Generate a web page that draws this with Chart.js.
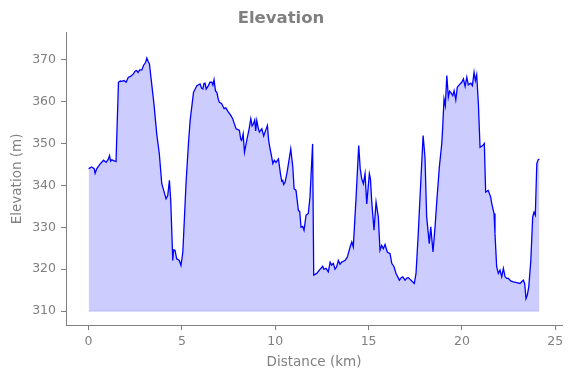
<!DOCTYPE html>
<html>
<head>
<meta charset="utf-8">
<script src="https://cdn.jsdelivr.net/npm/chart.js@4/dist/chart.umd.min.js"></script>
<style>
  html, body { margin: 0; padding: 0; background: #fff; }
</style>
</head>
<body>
<canvas id="chart" width="573" height="378"></canvas>
<script>
var distanceKm = [
    0.00, 0.17, 0.30, 0.35, 0.44, 0.60, 0.80, 0.94, 1.05, 1.12, 1.18, 1.24, 1.35, 1.47,
    1.60, 1.70, 1.78, 1.90, 2.01, 2.13, 2.25, 2.40, 2.50, 2.58, 2.65, 2.75, 2.85, 2.94,
    3.05, 3.12, 3.20, 3.26, 3.38, 3.50, 3.65, 3.79, 3.92, 4.15, 4.24, 4.33, 4.40, 4.51,
    4.55, 4.63, 4.72, 4.86, 4.95, 5.05, 5.22, 5.35, 5.44, 5.62, 5.80, 5.97, 6.05, 6.12,
    6.18, 6.24, 6.30, 6.42, 6.50, 6.60, 6.66, 6.72, 6.80, 6.87, 6.95, 7.01, 7.13, 7.26,
    7.35, 7.49, 7.60, 7.72, 7.80, 7.90, 8.00, 8.08, 8.15, 8.20, 8.28, 8.35, 8.47, 8.60,
    8.69, 8.76, 8.83, 8.90, 8.95, 9.01, 9.08, 9.15, 9.28, 9.38, 9.45, 9.58, 9.64, 9.69,
    9.80, 9.87, 9.95, 10.04, 10.17, 10.29, 10.35, 10.40, 10.45, 10.53, 10.65, 10.76,
    10.83, 10.94, 11.01, 11.11, 11.24, 11.31, 11.38, 11.47, 11.54, 11.65, 11.77, 11.86,
    12.00, 12.06, 12.22, 12.36, 12.54, 12.60, 12.72, 12.84, 12.94, 13.02, 13.11, 13.20,
    13.29, 13.38, 13.47, 13.56, 13.65, 13.74, 13.86, 14.01, 14.10, 14.18, 14.33, 14.47,
    14.55, 14.63, 14.72, 14.81, 14.90, 15.04, 15.10, 15.17, 15.29, 15.40, 15.52, 15.61,
    15.70, 15.79, 15.88, 16.00, 16.15, 16.24, 16.36, 16.47, 16.65, 16.75, 16.83, 16.95,
    17.05, 17.13, 17.31, 17.45, 17.54, 17.66, 17.79, 17.92, 18.02, 18.11, 18.25, 18.33,
    18.45, 18.56, 18.65, 18.79, 18.92, 18.97, 19.04, 19.11, 19.19, 19.27, 19.34, 19.40,
    19.51, 19.58, 19.67, 19.75, 19.90, 19.99, 20.08, 20.17, 20.26, 20.34, 20.47, 20.56,
    20.65, 20.72, 20.79, 20.88, 20.97, 21.11, 21.20, 21.27, 21.41, 21.54, 21.60, 21.72,
    21.77, 21.86, 21.95, 22.04, 22.13, 22.22, 22.31, 22.40, 22.49, 22.61, 22.75, 22.94,
    23.11, 23.20, 23.29, 23.36, 23.43, 23.50, 23.58, 23.69, 23.79, 23.86, 23.93, 24.01,
    24.08, 24.15
];

var elevationM = [
    344.0, 344.4, 344.0, 342.9, 344.0, 345.0, 346.0, 345.5, 346.2, 347.1, 345.8, 346.1, 345.9, 345.7,
    364.6, 364.9, 364.8, 365.0, 364.6, 365.8, 366.0, 366.6, 367.3, 367.4, 366.9, 367.6, 367.5, 368.6,
    369.3, 370.4, 369.5, 369.0, 364.2, 359.5, 352.3, 347.5, 340.4, 336.8, 337.6, 341.2, 336.4, 322.1,
    324.6, 324.5, 322.5, 322.1, 320.9, 324.1, 340.5, 350.0, 355.5, 362.2, 363.8, 364.2, 363.2, 363.0,
    364.3, 364.4, 363.0, 363.8, 364.6, 364.6, 363.9, 365.2, 362.5, 362.2, 360.5, 359.8, 359.5, 358.3,
    358.5, 357.5, 356.8, 355.9, 354.8, 353.5, 353.3, 353.1, 351.0, 350.7, 352.3, 347.9, 350.7, 353.5,
    355.9, 354.2, 354.7, 355.6, 353.0, 355.5, 353.8, 352.7, 353.5, 351.8, 352.7, 354.3, 351.0, 349.5,
    347.0, 345.2, 346.0, 345.5, 346.3, 342.4, 341.0, 341.2, 340.2, 340.8, 343.6, 346.7,
    348.7, 344.4, 339.2, 338.8, 334.0, 333.8, 330.0, 330.2, 329.3, 332.9, 333.3, 337.2,
    349.9, 318.6, 319.0, 319.8, 320.7, 320.0, 320.2, 319.4, 321.7, 321.0, 321.4, 320.0,
    320.6, 322.1, 321.2, 321.7, 321.9, 322.1, 322.9, 325.3, 326.5, 325.3, 337.2, 349.5,
    344.0, 341.6, 340.4, 342.8, 335.6, 342.8, 341.5, 336.0, 329.3, 336.0, 332.5, 324.5,
    325.7, 324.9, 325.9, 324.1, 323.7, 321.4, 320.6, 319.0, 317.4, 318.0, 318.2, 317.4,
    317.9, 318.0, 317.2, 316.6, 319.0, 328.5, 340.4, 351.9, 346.7, 332.5, 326.1, 330.1,
    324.1, 330.1, 336.0, 344.4, 350.0, 353.9, 360.6, 359.0, 366.2, 361.0, 362.5, 362.2,
    361.4, 362.6, 360.4, 363.4, 364.2, 364.6, 365.4, 363.6, 365.8, 364.0, 364.4, 363.8,
    367.0, 365.0, 366.4, 359.5, 349.1, 349.5, 350.0, 338.4, 338.8, 337.2, 335.6, 333.3,
    328.5, 320.6, 319.0, 319.8, 318.2, 320.2, 318.2, 317.8, 317.8, 317.2, 317.0, 316.8,
    316.6, 317.0, 317.4, 316.6, 313.0, 313.8, 315.8, 322.1, 332.5, 333.6, 332.9, 345.2,
    346.1, 346.3
];

var fillBase = 310;
var xTicks = [0, 5, 10, 15, 20, 25];
var yTicks = [310, 320, 330, 340, 350, 360, 370];

var grey = '#808080';

var points = distanceKm.map(function(d, i) {
    return { x: d, y: elevationM[i] };
});
var basePoints = [
    { x: distanceKm[0], y: fillBase },
    { x: distanceKm[distanceKm.length - 1], y: fillBase }
];

var ctx = document.getElementById('chart').getContext('2d');
var elevationChart = new Chart(ctx, {
    type: 'line',
    data: {
        datasets: [{
            data: points,
            borderColor: '#0000ff',
            borderWidth: 1.3,
            backgroundColor: 'rgba(0, 0, 255, 0.2)',
            fill: { value: fillBase },
            pointRadius: 0,
            tension: 0
        }, {
            // faint edge along the bottom of the filled area
            data: basePoints,
            borderColor: 'rgba(0, 0, 255, 0.15)',
            borderWidth: 1,
            pointRadius: 0,
            fill: false
        }]
    },
    options: {
        responsive: false,
        animation: false,
        devicePixelRatio: 1,
        layout: { padding: { left: 0, right: 11, top: 0, bottom: 0 } },
        plugins: {
            legend: { display: false },
            tooltip: { enabled: false },
            title: {
                display: true,
                text: 'Elevation',
                color: grey,
                font: { family: 'DejaVu Sans', size: 16.5, weight: 'bold' },
                padding: { top: 9, bottom: 4 }
            }
        },
        scales: {
            x: {
                type: 'linear',
                min: -1.21,
                max: 25.36,
                afterBuildTicks: function(scale) {
                    scale.ticks = xTicks.map(function(v) { return { value: v }; });
                },
                afterFit: function(scale) { scale.height = 53; },
                ticks: {
                    color: grey,
                    font: { family: 'DejaVu Sans', size: 12.5 },
                    padding: 4,
                    maxRotation: 0
                },
                grid: { drawOnChartArea: false, tickLength: 5, color: grey, tickWidth: 1 },
                border: { color: grey, width: 1 },
                title: {
                    display: true,
                    text: 'Distance (km)',
                    color: grey,
                    font: { family: 'DejaVu Sans', size: 13.5 },
                    padding: { top: 0, bottom: 7 }
                }
            },
            y: {
                min: 306.7,
                max: 376.4,
                afterBuildTicks: function(scale) {
                    scale.ticks = yTicks.map(function(v) { return { value: v }; });
                },
                afterFit: function(scale) { scale.width = 66; },
                ticks: {
                    color: grey,
                    font: { family: 'DejaVu Sans', size: 12.5 },
                    padding: 5
                },
                grid: { drawOnChartArea: false, tickLength: 5, color: grey, tickWidth: 1 },
                border: { color: grey, width: 1 },
                title: {
                    display: true,
                    text: 'Elevation (m)',
                    color: grey,
                    font: { family: 'DejaVu Sans', size: 13.5 },
                    padding: { top: 9, bottom: 0 }
                }
            }
        }
    }
});
</script>
</body>
</html>
